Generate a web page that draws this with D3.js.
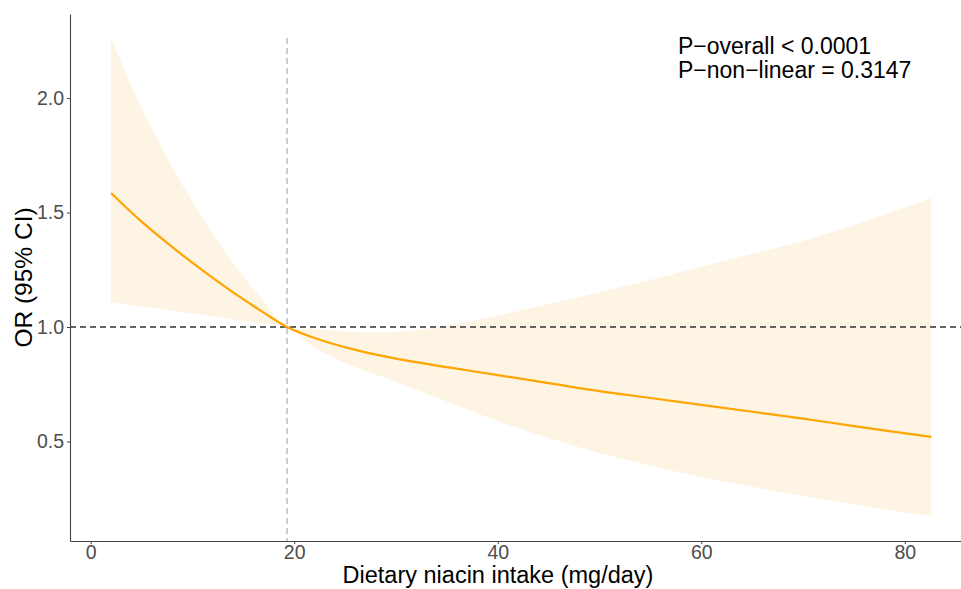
<!DOCTYPE html>
<html>
<head>
<meta charset="utf-8">
<script src="https://cdn.jsdelivr.net/npm/d3@7/dist/d3.min.js"></script>
<style>
  body { margin: 0; background: #fff; }
  svg { display: block; font-family: "Liberation Sans", Arial, sans-serif; }
</style>
</head>
<body>
<svg class="chart" width="961" height="589"></svg>
<script>
// niacin intake (mg/day) and estimated OR with 95% CI
var intake = [2, 5, 8, 11, 14, 17, 19.3, 22, 26, 30, 35, 40, 45, 50, 55, 60, 65, 70, 75, 82.6]
var orEst  = [1.585, 1.46, 1.35, 1.247, 1.151, 1.063, 1.0, 0.952, 0.90, 0.862, 0.825, 0.79, 0.755, 0.72, 0.69, 0.66, 0.63, 0.60, 0.567, 0.52]
var orLow  = [1.109, 1.09, 1.072, 1.053, 1.034, 1.015, 1.0, 0.91, 0.825, 0.76, 0.675, 0.59, 0.515, 0.45, 0.395, 0.345, 0.302, 0.262, 0.225, 0.173]
var orHigh = [2.262, 1.956, 1.70, 1.477, 1.281, 1.113, 1.0, 0.992, 0.978, 0.978, 1.005, 1.05, 1.10, 1.152, 1.205, 1.263, 1.32, 1.376, 1.445, 1.563]

var xTicks = [0, 20, 40, 60, 80]
var yTicks = [0.5, 1.0, 1.5, 2.0]
var refX = 19.3
var pLines = ["P\u2212overall < 0.0001", "P\u2212non\u2212linear = 0.3147"]

var margin = {top: 14, right: 0, bottom: 48, left: 70},
    width  = 961 - margin.left - margin.right,
    height = 589 - margin.top - margin.bottom

var svg = d3.select(".chart")
var g = svg.append("g").attr("transform", "translate(" + margin.left + "," + margin.top + ")")

var x = d3.scaleLinear().domain([-2.03, 86.6]).range([0, 902])
var y = d3.scaleLinear().domain([0.0654, 2.367]).range([height, 0])

var pts = intake.map(function(d, i) {
  return {x: d, est: orEst[i], lo: orLow[i], hi: orHigh[i]}
})

// confidence band
g.append("path")
  .datum(pts)
  .attr("fill", "#fdf4e4")
  .attr("d", d3.area()
    .curve(d3.curveCatmullRom)
    .x(function(d) { return x(d.x) })
    .y0(function(d) { return y(d.lo) })
    .y1(function(d) { return y(d.hi) }))

// reference lines
g.append("line")
  .attr("x1", x(refX)).attr("x2", x(refX))
  .attr("y1", y(d3.max(orHigh))).attr("y2", height)
  .attr("stroke", "#bdbdbd").attr("stroke-width", 1.5)
  .attr("stroke-dasharray", "6,4")

g.append("line")
  .attr("x1", 0).attr("x2", width)
  .attr("y1", y(1)).attr("y2", y(1))
  .attr("stroke", "#333").attr("stroke-width", 1.5)
  .attr("stroke-dasharray", "6,4")

// estimate line
g.append("path")
  .datum(pts)
  .attr("fill", "none")
  .attr("stroke", "#ffa500")
  .attr("stroke-width", 2.2)
  .attr("d", d3.line()
    .curve(d3.curveCatmullRom)
    .x(function(d) { return x(d.x) })
    .y(function(d) { return y(d.est) }))

// axes
var xAxis = g.append("g")
  .attr("transform", "translate(0," + height + ")")
  .call(d3.axisBottom(x).tickValues(xTicks).tickSize(3).tickPadding(1).tickSizeOuter(0))
var yAxis = g.append("g")
  .call(d3.axisLeft(y).tickValues(yTicks).tickFormat(d3.format(".1f")).tickSize(3).tickPadding(3).tickSizeOuter(0))

;[xAxis, yAxis].forEach(function(a) {
  a.select(".domain").attr("stroke", "#444").attr("stroke-width", 1.1)
  a.selectAll(".tick line").attr("stroke", "#444")
  a.selectAll(".tick text").attr("fill", "#4d4d4d").style("font-size", "19.5px")
    .style("font-family", "Liberation Sans, Arial, sans-serif")
})

// titles
svg.append("text")
  .attr("x", 498).attr("y", 583)
  .attr("text-anchor", "middle")
  .style("font-size", "23.5px")
  .text("Dietary niacin intake (mg/day)")

svg.append("text")
  .attr("transform", "translate(32," + (margin.top + height / 2) + ") rotate(-90)")
  .attr("text-anchor", "middle")
  .style("font-size", "24.5px")
  .text("OR (95% CI)")

svg.append("text")
  .attr("x", 678).attr("y", 54)
  .style("font-size", "23px")
  .selectAll("tspan")
  .data(pLines)
  .enter().append("tspan")
  .attr("x", 678)
  .attr("dy", function(d, i) { return i ? 23.5 : 0 })
  .text(function(d) { return d })
</script>
</body>
</html>
